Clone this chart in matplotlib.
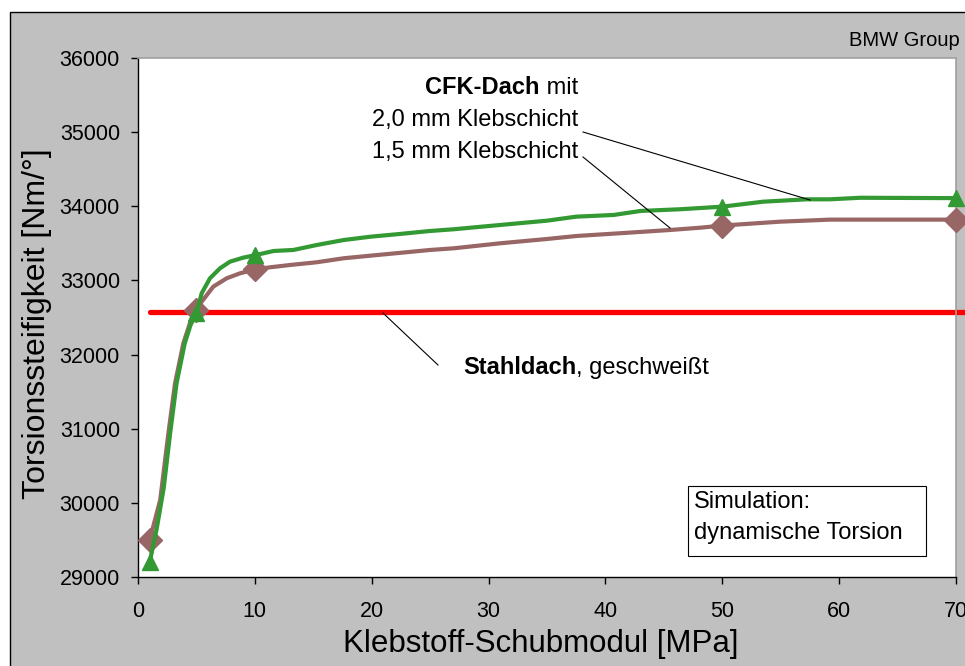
import matplotlib
matplotlib.use("Agg")
import matplotlib.pyplot as plt
from matplotlib.patches import Rectangle

plt.rcParams['font.family'] = ['Liberation Sans', 'DejaVu Sans']

# Measured points (markers)
modulus_pts = [1, 5, 10, 50, 70]
cfk_20_pts = [29200, 32560, 33340, 33995, 34110]
cfk_15_pts = [29500, 32600, 33150, 33740, 33820]
steel_value = 32580

# Curve traces
cfk_20_x = [1, 1.6, 2.2, 2.75, 3.3, 4.0, 4.5, 5, 5.45, 6.16, 7.02, 7.87, 9.0, 10,
            11.6, 13.3, 15.3, 17.6, 19.9, 22.3, 25, 27, 31, 35, 37.5, 40.7, 43,
            46.4, 50, 53.5, 57.2, 59.2, 61.8, 70]
cfk_20_y = [29200, 29650, 30200, 30938, 31612, 32152, 32400, 32560, 32827, 33029,
            33164, 33253, 33307, 33340, 33397, 33411, 33478, 33545, 33590, 33625,
            33667, 33690, 33748, 33806, 33860, 33883, 33937, 33960, 33995, 34062,
            34094, 34094, 34115, 34110]
cfk_15_x = [1, 1.9, 2.6, 3.17, 3.88, 4.5, 5, 5.45, 6.44, 7.59, 8.73, 10, 11.3, 13,
            15.3, 17.6, 19.9, 22.3, 25, 27, 31, 35, 37.5, 41.2, 45.5, 48.1, 50,
            54.9, 59.2, 70]
cfk_15_y = [29500, 30039, 30938, 31612, 32152, 32450, 32600, 32713, 32916, 33029,
            33096, 33150, 33177, 33208, 33245, 33299, 33334, 33370, 33411, 33433,
            33501, 33559, 33599, 33636, 33680, 33711, 33740, 33792, 33820, 33820]

x_ticks = [0, 10, 20, 30, 40, 50, 60, 70]
y_ticks = [29000, 30000, 31000, 32000, 33000, 34000, 35000, 36000]

W, H = 965, 666
fig = plt.figure(figsize=(W / 100, H / 100), dpi=100)
fig.patch.set_facecolor('white')


def fx(xp):
    return xp / W


def fy(yp):
    return 1 - yp / H


# grey chart area with black frame on top/left
fig.patches.append(Rectangle((fx(10), -0.1), 1.2, (H - 12) / H + 0.1,
                             transform=fig.transFigure, facecolor='#c0c0c0',
                             edgecolor='black', linewidth=1.0, zorder=-10))

ax = fig.add_axes([fx(138), fy(577), (956 - 138) / W, (577 - 58) / H])
ax.set_facecolor('white')
ax.set_xlim(0, 70)
ax.set_ylim(29000, 36000)
ax.set_xticks(x_ticks)
ax.set_yticks(y_ticks)
ax.tick_params(direction='out', length=5, width=1, labelsize=15.5,
               colors='black')
ax.tick_params(axis='x', pad=12)
ax.tick_params(axis='y', pad=8)
for s in ['top', 'right']:
    ax.spines[s].set_color('#a0a0a0')
    ax.spines[s].set_linewidth(1.2)
for s in ['left', 'bottom']:
    ax.spines[s].set_color('black')
    ax.spines[s].set_linewidth(1.0)

ax.set_xlabel('Klebstoff-Schubmodul [MPa]', fontsize=22.5)
ax.xaxis.set_label_coords((541 - 138) / 818, (577 - 629) / 519)
ax.set_ylabel('Torsionssteifigkeit [Nm/°]', fontsize=23)
ax.yaxis.set_label_coords((52 - 138) / 818, 0.4875)

green = '#339933'
brown = '#996666'

ax.plot([1, 72], [steel_value, steel_value], color='#ff0000', lw=3.8,
        solid_capstyle='round', clip_on=False, zorder=2)
ax.plot(cfk_15_x, cfk_15_y, color=brown, lw=3.0, zorder=3, clip_on=False)
ax.plot(modulus_pts, cfk_15_pts, ls='none', marker='D', ms=12.5, color=brown,
        zorder=4, clip_on=False)
ax.plot(cfk_20_x, cfk_20_y, color=green, lw=3.0, zorder=5, clip_on=False)
ax.plot(modulus_pts, cfk_20_pts, ls='none', marker='^', ms=12, color=green,
        zorder=6, clip_on=False)

tf = dict(transform=fig.transFigure, fontsize=17, color='black', va='center')
renderer = fig.canvas.get_renderer()


def bold_then_plain(x_left, y, bold, plain, x_right=None):
    b = fig.text(fx(x_left), fy(y), bold, ha='left', fontweight='bold', **tf)
    ext = b.get_window_extent(renderer)
    p = fig.text(ext.x1 / W, fy(y), plain, ha='left', **tf)
    if x_right is not None:
        shift = x_right - p.get_window_extent(renderer).x1
        b.set_x(b.get_position()[0] + shift / W)
        p.set_x(p.get_position()[0] + shift / W)


bold_then_plain(430, 88, 'CFK-Dach', ' mit', x_right=578)
fig.text(fx(578), fy(120), '2,0 mm Klebschicht', ha='right', **tf)
fig.text(fx(578), fy(152), '1,5 mm Klebschicht', ha='right', **tf)
bold_then_plain(463, 368, 'Stahldach', ', geschweißt')
fig.text(fx(960), fy(40), 'BMW Group', ha='right', va='center',
         transform=fig.transFigure, fontsize=14.5)

# leader lines
for (x0, y0), (x1, y1) in [((583, 132), (810, 200)),
                           ((583, 157), (670, 228)),
                           ((383, 313), (438, 365))]:
    fig.add_artist(plt.Line2D([fx(x0), fx(x1)], [fy(y0), fy(y1)],
                              transform=fig.transFigure, color='black', lw=0.8,
                              zorder=7))

# note box
fig.add_artist(Rectangle((fx(688), fy(556)), (926 - 688) / W, (556 - 486) / H,
                         transform=fig.transFigure, facecolor='white',
                         edgecolor='black', linewidth=0.8, zorder=8))
fig.text(fx(694), fy(502), 'Simulation:', ha='left', zorder=9, **tf)
fig.text(fx(694), fy(533), 'dynamische Torsion', ha='left', zorder=9, **tf)

fig.savefig('out.png', dpi=100, facecolor=fig.get_facecolor())
